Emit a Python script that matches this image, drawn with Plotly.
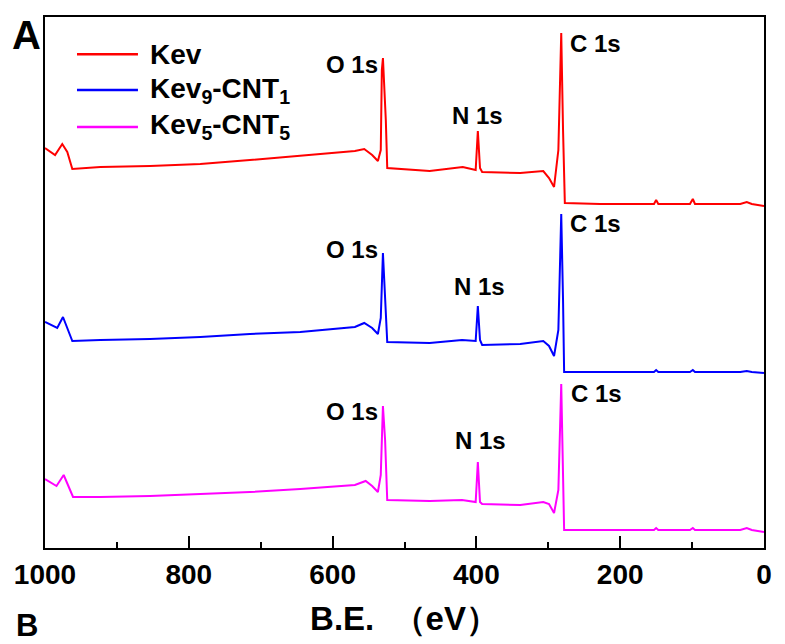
import plotly.graph_objects as go

# ---- data (binding energy in eV, intensity in arbitrary units) ----
be_kev = [1000, 986, 976, 969, 962, 923, 854, 784, 715, 645, 604, 569, 556, 545, 537, 533, 531.5, 530,
          526, 524, 465, 419, 401, 398, 395, 392, 339, 307, 299, 292, 286, 282, 279.5, 277, 228, 153,
          150, 147, 103, 99, 96, 33, 24, 17, 0]
i_kev = [400, 393, 404, 396, 379, 381, 382, 384, 388, 392, 395, 397, 399, 393, 387, 398, 478, 490,
         428, 380, 377, 381, 378, 417, 380, 376, 375, 377, 370, 361, 398, 515, 418, 345, 344, 344,
         348, 344, 344, 349, 344, 344, 346, 344, 342]

be_k9 = [1000, 983, 975, 962, 923, 854, 784, 715, 645, 569, 556, 545, 537, 533, 530, 526, 524, 465,
         420, 401, 398, 395, 392, 339, 307, 299, 292, 286, 282, 279.5, 278, 228, 153, 150, 147, 103,
         99, 96, 33, 24, 17, 0]
i_k9 = [226, 220, 231, 207, 208, 209, 211, 214, 216, 221, 225, 220, 214, 230, 295, 228, 206, 205,
        208, 207, 242, 208, 203, 204, 207, 202, 192, 218, 334, 248, 176, 176, 176, 178, 176, 176,
        178, 176, 176, 177, 176, 175]

be_k5 = [1000, 984, 974, 961, 923, 854, 784, 715, 645, 569, 554, 545, 537, 533, 530, 527, 524, 465,
         420, 401, 398, 395, 392, 339, 307, 299, 292, 286, 282, 279.5, 278, 228, 153, 150, 147, 103,
         99, 96, 33, 24, 17, 0]
i_k5 = [69, 62, 73, 51, 51, 52, 54, 56, 59, 63, 67, 62, 56, 73, 142, 108, 48, 47,
        48, 46, 86, 46, 44, 43, 46, 44, 35, 58, 164, 88, 18, 18, 18, 20, 18, 18,
        20, 18, 18, 20, 18, 16]

series_names = ["Kev", "Kev<sub>9</sub>-CNT<sub>1</sub>", "Kev<sub>5</sub>-CNT<sub>5</sub>"]
series_colors = ["#ff0000", "#0000ff", "#ff00ff"]

x_ticks = [1000, 800, 600, 400, 200, 0]

# peak labels: (text, BE, intensity, xanchor)
peak_labels = [
    ("O 1s", 573, 484, "center"), ("N 1s", 398, 433, "center"), ("C 1s", 273, 505, "left"),
    ("O 1s", 573, 299, "center"), ("N 1s", 396, 262, "center"), ("C 1s", 272, 325, "left"),
    ("O 1s", 573, 137, "center"), ("N 1s", 395, 108, "center"), ("C 1s", 271, 155, "left"),
]

FONT = "Liberation Sans, Arial, sans-serif"

fig = go.Figure()
for be, inten, name, col in zip([be_kev, be_k9, be_k5], [i_kev, i_k9, i_k5], series_names, series_colors):
    fig.add_trace(go.Scatter(x=be, y=inten, mode="lines", name=name, showlegend=False,
                             line=dict(color=col, width=2)))

for txt, xb, yi, xa in peak_labels:
    fig.add_annotation(x=xb, y=yi, xref="x", yref="y", text="<b>" + txt + "</b>",
                       showarrow=False, xanchor=xa, yanchor="middle",
                       font=dict(family=FONT, size=24, color="black"))

# legend drawn by hand (line samples + labels) to match the long sample lines
leg_y = [0.930, 0.8625, 0.793]
for name, col, ly in zip(series_names, series_colors, leg_y):
    fig.add_shape(type="line", xref="paper", yref="paper", x0=0.0445, x1=0.1293, y0=ly, y1=ly,
                  line=dict(color=col, width=2.5))
    fig.add_annotation(x=0.1433, y=ly, xref="paper", yref="paper", text="<b>" + name + "</b>",
                       showarrow=False, xanchor="left", yanchor="middle",
                       font=dict(family=FONT, size=28, color="black"))

# panel letters
fig.add_annotation(x=-0.026, y=1.012, xref="paper", yref="paper", text="<b>A</b>", showarrow=False,
                   xanchor="center", yanchor="top", font=dict(family=FONT, size=40, color="black"))
fig.add_annotation(x=-0.025, y=-0.146, xref="paper", yref="paper", text="<b>B</b>", showarrow=False,
                   xanchor="center", yanchor="middle", font=dict(family=FONT, size=31, color="black"))

# the page body adds an 8 px margin, so the figure is sized to fit the window
fig.update_layout(
    width=777, height=636,
    margin=dict(l=37, r=21, t=9, b=96),
    plot_bgcolor="white", paper_bgcolor="white",
    font=dict(family=FONT, color="black"),
    showlegend=False,
    xaxis=dict(range=[1000, 0], tickvals=x_ticks, ticktext=["<b>%d</b>" % v for v in x_ticks],
               ticks="inside", ticklen=12, tickwidth=2, tickcolor="black",
               minor=dict(dtick=100, ticks="inside", ticklen=6, tickwidth=2, tickcolor="black"),
               showline=True, linewidth=2, linecolor="black", mirror=True,
               showgrid=False, zeroline=False, automargin=False,
               tickfont=dict(family=FONT, size=28, color="black"),
               title=dict(text="<b>B.E.  （eV）</b>", font=dict(family=FONT, size=33, color="black"),
                          standoff=18)),
    yaxis=dict(range=[0, 531], showticklabels=False, ticks="", showline=True, linewidth=2,
               linecolor="black", mirror=True, showgrid=False, zeroline=False, automargin=False),
)

fig.write_html("out.html")
